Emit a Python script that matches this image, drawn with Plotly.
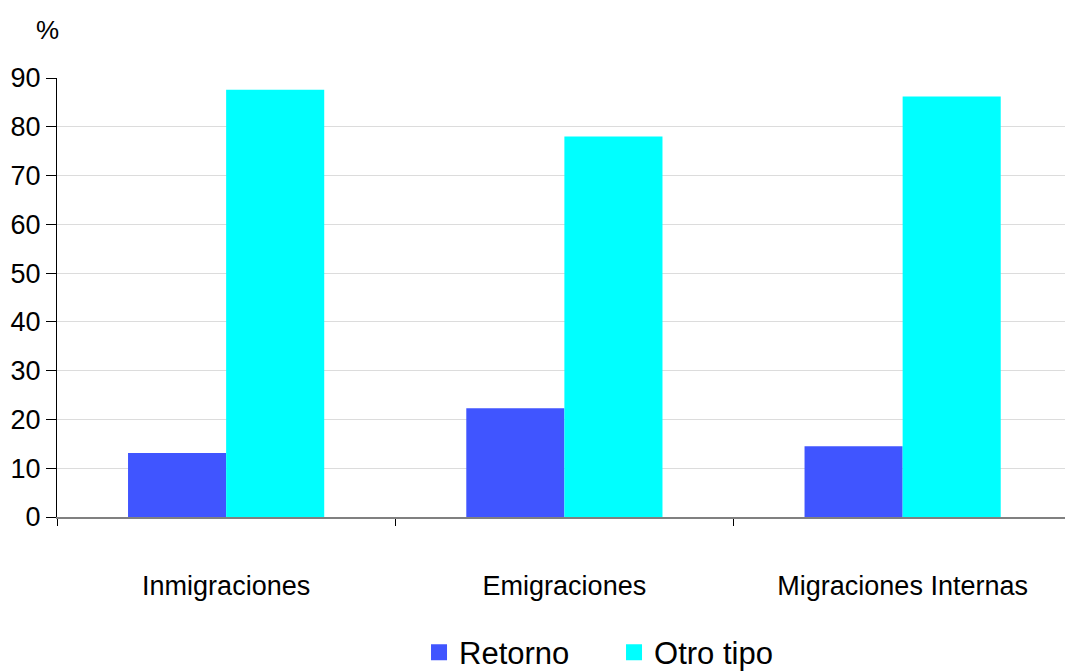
import plotly.graph_objects as go

categories = ["Inmigraciones", "Emigraciones", "Migraciones Internas"]
retorno = [13.1, 22.3, 14.5]
otro_tipo = [87.6, 78.0, 86.2]
y_ticks = [0, 10, 20, 30, 40, 50, 60, 70, 80, 90]
series_names = ["Retorno", "Otro tipo"]
series_colors = ["#4055FF", "#00FFFF"]

FONT = "Liberation Sans, Arial, sans-serif"

fig = go.Figure()
for name, vals, col in zip(series_names, [retorno, otro_tipo], series_colors):
    fig.add_trace(go.Bar(x=categories, y=vals, name=name, showlegend=False,
                         marker=dict(color=col, line=dict(width=0))))
# legend entries with larger square swatches
for name, col in zip(series_names, series_colors):
    fig.add_trace(go.Scatter(x=[None], y=[None], mode="markers", name=name,
                             marker=dict(symbol="square", size=16, color=col),
                             showlegend=True))

fig.update_layout(
    width=1065, height=672,
    margin=dict(l=57, r=0, t=78, b=155),
    paper_bgcolor="white", plot_bgcolor="white",
    barmode="group", bargap=0.42, bargroupgap=0,
    font=dict(family=FONT, size=27, color="black"),
    legend=dict(orientation="h", x=0.5526, xanchor="center",
                yref="container", y=0.029, yanchor="middle",
                font=dict(size=31), itemwidth=30, itemsizing="trace",
                entrywidth=150, entrywidthmode="pixels",
                traceorder="normal"),
    annotations=[dict(text="%", xref="paper", yref="paper",
                      x=-10 / 1008, y=(517 - 30) / (517 - 78),
                      xanchor="center", yanchor="middle", showarrow=False,
                      font=dict(size=26))],
)

fig.update_xaxes(
    range=[-0.5, 2.48],
    showline=True, linecolor="#808080", linewidth=2,
    ticks="outside", tickson="boundaries", ticklen=7, tickcolor="black", tickwidth=1,
    ticklabelstandoff=44,
    tickfont=dict(size=27),
    showgrid=False,
)
fig.update_yaxes(
    range=[0, 90], tickvals=y_ticks,
    showline=True, linecolor="black", linewidth=1,
    ticks="outside", ticklen=10, tickcolor="black",
    showgrid=True, gridcolor="#dcdcdc", gridwidth=1,
    tickfont=dict(size=27),
    zeroline=False,
)

fig.write_html("out.html", config={"displayModeBar": False},
               post_script="document.body.style.margin='0px';document.body.style.overflow='hidden';")
